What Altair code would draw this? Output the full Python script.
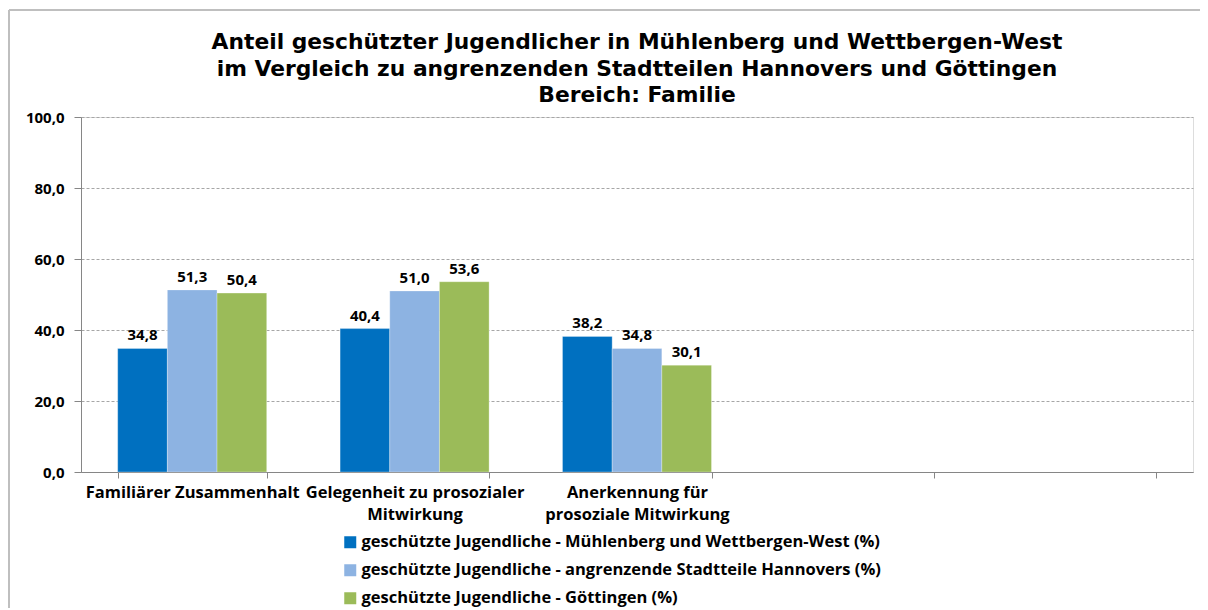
import altair as alt
import pandas as pd

kategorien = [
    "Familiärer Zusammenhalt",
    "Gelegenheit zu prosozialer|Mitwirkung",
    "Anerkennung für|prosoziale Mitwirkung",
    " ",
    "  ",
]
serien = [
    "geschützte Jugendliche - Mühlenberg und Wettbergen-West (%)",
    "geschützte Jugendliche - angrenzende Stadtteile Hannovers (%)",
    "geschützte Jugendliche - Göttingen (%)",
]
farben = ["#0070C0", "#8DB3E2", "#9BBB59"]
muehlenberg = [34.8, 40.4, 38.2]
hannover = [51.3, 51.0, 34.8]
goettingen = [50.4, 53.6, 30.1]
y_ticks = [0, 20, 40, 60, 80, 100]
titel = [
    "Anteil geschützter Jugendlicher in Mühlenberg und Wettbergen-West",
    "im Vergleich zu angrenzenden Stadtteilen Hannovers und Göttingen",
    "Bereich: Familie",
]

rows = []
for s, werte in zip(serien, [muehlenberg, hannover, goettingen]):
    for k, v in zip(kategorien, werte):
        rows.append({"Kategorie": k, "Serie": s, "Wert": v})
df = pd.DataFrame(rows)

FONT = "Open Sans"
TITLE_FONT = "DejaVu Sans"

x_enc = alt.X(
    "Kategorie:N",
    scale=alt.Scale(domain=kategorien, paddingInner=0.33, paddingOuter=0.165),
    sort=kategorien,
    axis=alt.Axis(
        title=None,
        labelAngle=0,
        tickBand="extent",
        labelExpr="split(datum.label, '|')",
        labelFont=FONT,
        labelFontSize=16.5,
        labelFontWeight="bold",
        labelColor="#000000",
        labelLineHeight=22,
        labelPadding=6,
        labelBaseline="top",
        tickSize=6,
        tickColor="#868686",
        domainColor="#868686",
        labelLimit=0,
    ),
)
y_enc = alt.Y(
    "Wert:Q",
    scale=alt.Scale(domain=[0, 100], nice=False),
    axis=alt.Axis(
        title=None,
        values=y_ticks,
        format=".1f",
        labelExpr="replace(datum.label, '.', ',')",
        labelFont=FONT,
        labelFontSize=15,
        labelFontWeight="bold",
        labelColor="#000000",
        labelPadding=10,
        tickSize=7,
        tickColor="#868686",
        domainColor="#868686",
        grid=True,
        gridColor="#A6A6A6",
        gridDash=[3, 2],
        gridWidth=1,
    ),
)

base = alt.Chart(df).encode(
    x=x_enc,
    xOffset=alt.XOffset("Serie:N", sort=serien, scale=alt.Scale(domain=serien, paddingInner=0, paddingOuter=0)),
)

bars = base.mark_bar(stroke="#FFFFFF", strokeWidth=0.5, strokeOpacity=0.6).encode(
    y=y_enc,
    color=alt.Color(
        "Serie:N",
        sort=serien,
        scale=alt.Scale(domain=serien, range=farben),
        legend=alt.Legend(
            title=None,
            orient="none",
            legendX=261,
            legendY=417,
            direction="vertical",
            symbolType="square",
            symbolSize=144,
            symbolStrokeWidth=0,
            labelFont=FONT,
            labelFontSize=16.5,
            labelFontWeight="bold",
            labelColor="#000000",
            labelLimit=0,
            rowPadding=11,
            labelOffset=3,
        ),
    ),
)

texts = base.transform_calculate(
    beschriftung="replace(format(datum.Wert, '.1f'), '.', ',')"
).mark_text(
    font=FONT, fontSize=15, fontWeight="bold", color="#000000", baseline="bottom", dy=-5
).encode(
    y=alt.Y("Wert:Q"),
    text="beschriftung:N",
)

rahmen_df = pd.DataFrame({"r": [0]})
rahmen_oben = alt.Chart(rahmen_df).mark_rule(color="#BFBFBF", strokeWidth=2).encode(
    x=alt.value(-72), x2=alt.value(1140), y=alt.value(-107)
)
rahmen_links = alt.Chart(rahmen_df).mark_rule(color="#BFBFBF", strokeWidth=2).encode(
    x=alt.value(-72), y=alt.value(-107), y2=alt.value(620)
)

titel_text = alt.Chart(rahmen_df).mark_text(
    font=TITLE_FONT, fontSize=21.8, fontWeight="bold", color="#000000",
    align="center", baseline="middle", lineHeight=26.5,
).encode(
    x=alt.value(556), y=alt.value(-75), text=alt.value(titel)
)

chart = alt.layer(rahmen_oben, rahmen_links, bars, texts, titel_text).properties(
    width=1112,
    height=355,
    autosize=alt.AutoSizeParams(type="none"),
    padding={"left": 73, "top": 109, "right": 7, "bottom": 136},
).configure_view(stroke=None).configure(background="#FFFFFF")

chart.save("out.html", embed_options={"renderer": "svg", "actions": False})
